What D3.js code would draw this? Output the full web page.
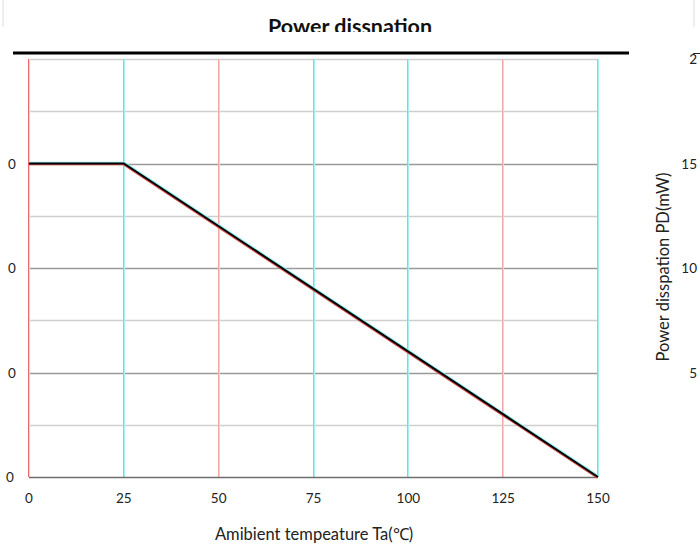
<!DOCTYPE html>
<html><head><meta charset="utf-8">
<script src="https://cdn.jsdelivr.net/npm/d3@7"></script>
<style>body{margin:0;background:#fff}svg{display:block}</style>
</head><body>
<svg id="c" width="700" height="558"></svg>
<script>
// Data
const temps = [0, 25, 150];              // Ambient temperature Ta (°C)
const power = [150, 150, 0];             // Power dissipation PD (mW)
const xTicks = [0, 25, 50, 75, 100, 125, 150];
const yMajor = [0, 50, 100, 150];
const yMinor = [25, 75, 125, 175, 200];
const leftLabels = ["0", "0", "0", "0"]; // visible (cut) part of the left tick labels
const rightTicks = [5, 10, 15, 20];
const rightLabels = ["5", "10", "15", "2\u0305"];
const titleText = "Power dissnation";
const xTitle = "Amibient tempeature Ta(\u2103)";
const yTitle = "Power disspation PD(mW)";

const svg = d3.select("#c");
const font = "Lato, 'Open Sans', sans-serif";
const x = d3.scaleLinear().domain([0,150]).range([29,598]);
const y = d3.scaleLinear().domain([0,200]).range([477,59]);
const yR = d3.scaleLinear().domain([0,20]).range([477,59]);
const px = v => Math.round(v);

// faint edge lines at top
svg.append("line").attr("x1",3).attr("x2",3).attr("y1",0).attr("y2",27).attr("stroke","#ddd");
svg.append("line").attr("x1",694).attr("x2",694).attr("y1",0).attr("y2",27).attr("stroke","#ddd");

// title (clipped at bottom)
svg.append("clipPath").attr("id","tclip").append("rect").attr("x",0).attr("y",0).attr("width",700).attr("height",32);
svg.append("text").attr("clip-path","url(#tclip)").attr("x",350).attr("y",34)
  .attr("text-anchor","middle").attr("font-family",font).attr("font-weight","bold")
  .attr("font-size",21.5).attr("fill","#111").text(titleText);

// thick top rule
svg.append("line").attr("x1",13).attr("x2",629).attr("y1",53).attr("y2",53)
  .attr("stroke","#000").attr("stroke-width",3);

// horizontal grid
svg.append("g").selectAll("line").data(yMinor).join("line")
  .attr("x1",29).attr("x2",598).attr("y1",d=>px(y(d))+0.5).attr("y2",d=>px(y(d))+0.5)
  .attr("stroke","#cfcfcf").attr("stroke-width",1.5);
svg.append("g").selectAll("line").data(yMajor.filter(d=>d>0)).join("line")
  .attr("x1",29).attr("x2",598).attr("y1",d=>px(y(d))+0.5).attr("y2",d=>px(y(d))+0.5)
  .attr("stroke","#9a9a9a").attr("stroke-width",1.5);

// vertical grid (pink/cyan fringes)
const vg = svg.append("g");
vg.selectAll("line.p").data(xTicks).join("line").attr("class","p")
  .attr("x1",d=>px(x(d))-0.5).attr("x2",d=>px(x(d))-0.5).attr("y1",59).attr("y2",477)
  .attr("stroke",d=>d===0?"#e86a6a":"#f4a6a6").attr("stroke-width",1);
vg.selectAll("line.c").data(xTicks).join("line").attr("class","c")
  .attr("x1",d=>px(x(d))+0.5).attr("x2",d=>px(x(d))+0.5).attr("y1",59).attr("y2",477)
  .attr("stroke","#a6f2f2").attr("stroke-width",1);

// bottom axis line
svg.append("line").attr("x1",29).attr("x2",598).attr("y1",477.5).attr("y2",477.5)
  .attr("stroke","#6e6e6e").attr("stroke-width",1.5);

// x tick labels
svg.append("g").selectAll("text").data(xTicks).join("text")
  .attr("x",d=>x(d)).attr("y",503).attr("text-anchor","middle")
  .attr("font-family",font).attr("font-size",13.5).attr("fill","#222").text(d=>d);

// x title
svg.append("text").attr("x",314).attr("y",540).attr("text-anchor","middle")
  .attr("font-family",font).attr("font-size",16.5).attr("fill","#222").text(xTitle);

// left tick labels
svg.append("g").selectAll("text").data(yMajor).join("text")
  .attr("x",(d,i)=>i===0?6:8).attr("y",d=>y(d)+5).attr("text-anchor","start")
  .attr("font-family",font).attr("font-size",13.5).attr("fill","#222")
  .text((d,i)=>leftLabels[i]);

// right tick labels
svg.append("g").selectAll("text").data(rightTicks).join("text")
  .attr("x",697).attr("y",d=>yR(d)+5).attr("text-anchor","end")
  .attr("font-family",font).attr("font-size",13.5).attr("fill","#222")
  .text((d,i)=>rightLabels[i]);

// right axis title
svg.append("text").attr("transform","translate(669,267) rotate(-90)")
  .attr("text-anchor","middle").attr("font-family",font).attr("font-size",16.5)
  .attr("fill","#222").text(yTitle);

// data line
const pts = temps.map((t,i)=>[t,power[i]]);
const line = d3.line().x(d=>x(d[0])).y(d=>y(d[1]));
svg.append("path").datum(pts).attr("d",line).attr("fill","none")
  .attr("stroke","#8ef0f0").attr("stroke-width",2).attr("transform","translate(0.7,-0.7)");
svg.append("path").datum(pts).attr("d",line).attr("fill","none")
  .attr("stroke","#e05050").attr("stroke-width",2).attr("transform","translate(-0.7,0.7)");
svg.append("path").datum(pts).attr("d",line).attr("fill","none")
  .attr("stroke","#000").attr("stroke-width",2);
</script>
</body></html>
